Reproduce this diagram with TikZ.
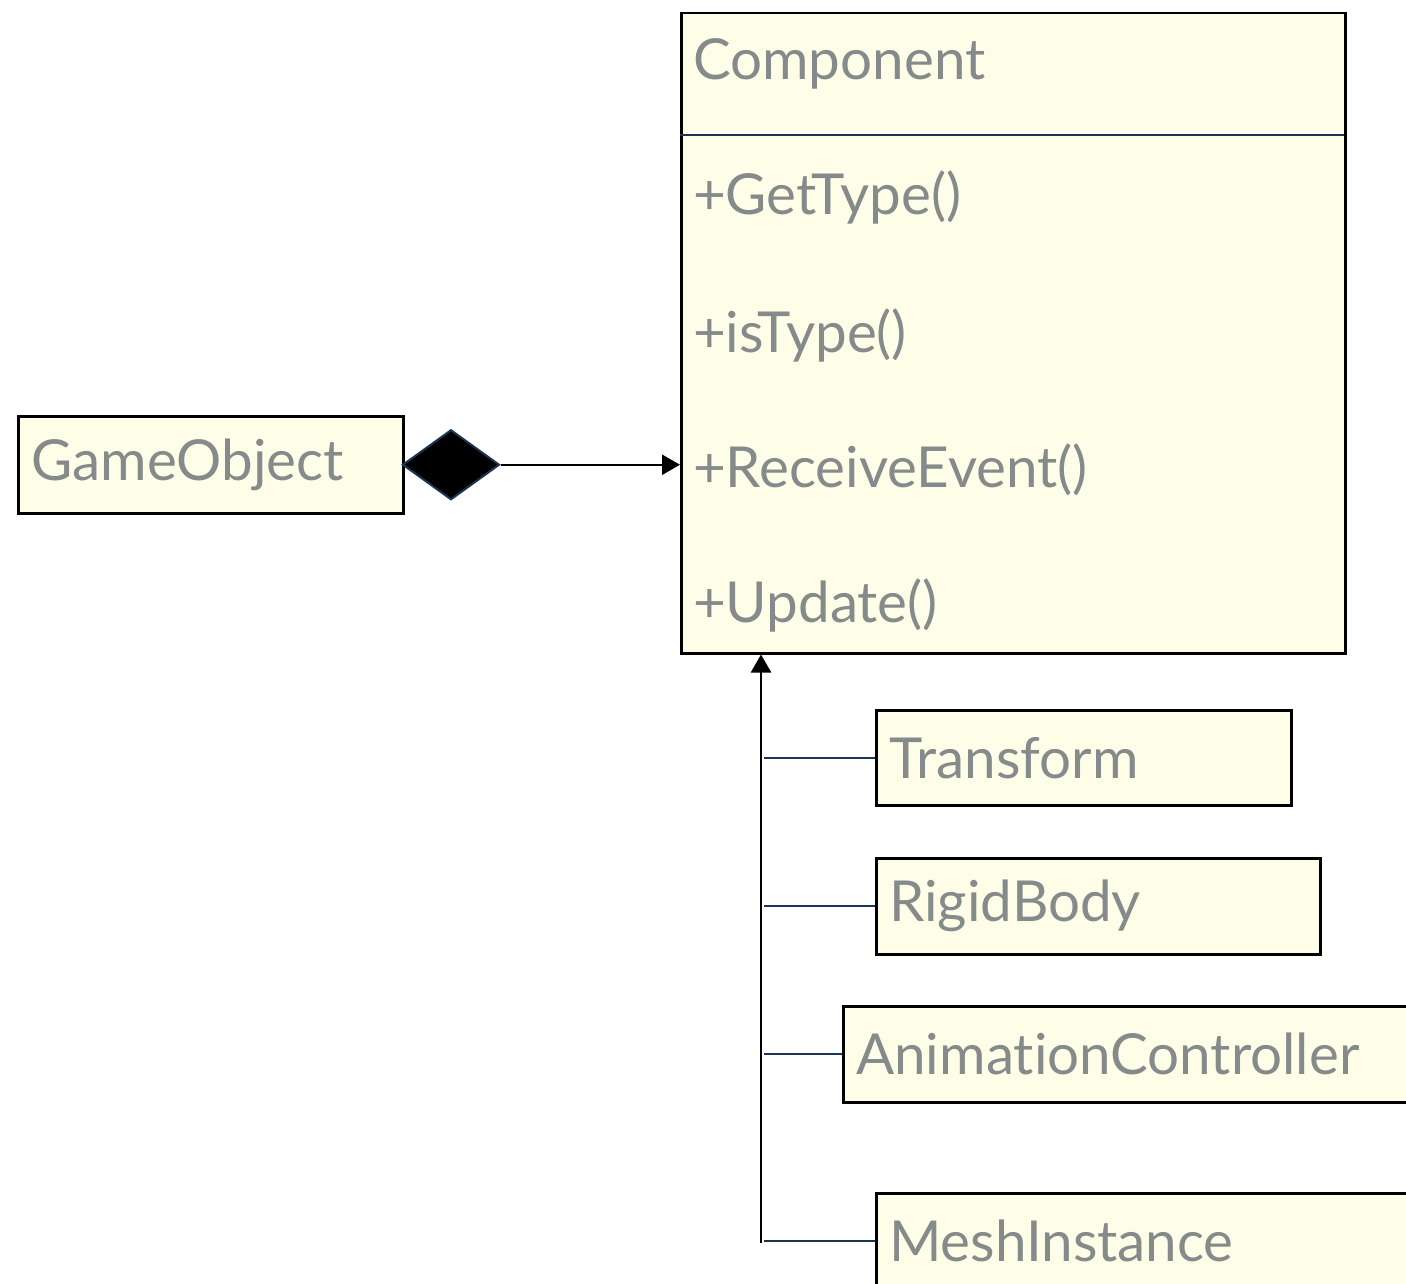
\documentclass[tikz,border=0pt]{standalone}
\usepackage{fontspec}
\setmainfont[Ligatures=NoCommon]{Lato}
\usetikzlibrary{shapes.geometric,arrows.meta}
\definecolor{boxfill}{HTML}{FEFEE8}
\definecolor{labelgray}{HTML}{858A8A}
\definecolor{navy}{HTML}{1B3553}
\begin{document}
\begin{tikzpicture}[x=1pt,y=-1pt,
  cls/.style={draw=black, line width=2.5pt, fill=boxfill, rectangle,
    anchor=north west, inner xsep=13pt, inner ysep=0pt, align=left,
    font=\fontsize{56.5}{62}\selectfont, text=labelgray},
  member/.style={anchor=base west, inner sep=0pt,
    font=\fontsize{56.5}{62}\selectfont, text=labelgray},
  branch/.style={draw=navy, line width=2pt},
  tip/.style={-{Triangle[width=20pt,length=18pt]}, line width=2.5pt}]
\useasboundingbox (0,0) rectangle (1406,1284);
\clip (0,0) rectangle (1406,1284);

% Component class: name compartment and operations compartment
\node[cls, minimum width=664pt, minimum height=640pt] (comp) at (680,12) {};
\draw[navy, line width=2.5pt] (680,135) -- (1344,135);
\node[member] (cname) at (693,80) {Component};
\node[member] (op1) at (693,215) {+GetType()};
\node[member] (op2) at (693,352) {+isType()};
\node[member] (op3) at (693,487) {+ReceiveEvent()};
\node[member] (op4) at (693,622) {+Update()};

% Owner with composition
\node[cls, minimum width=385pt, minimum height=97pt, text width=359pt] (go) at (17,415) {GameObject};
\node[diamond, draw=navy, line width=2pt, fill=black, minimum width=97pt,
  minimum height=70pt, inner sep=0pt, anchor=west] (dia) at ([xshift=-3pt]go.east) {};
\draw[tip] (dia.east) -- (dia.east -| comp.west);

% Subclasses
\node[cls, minimum width=415pt, minimum height=95pt, text width=389pt] (tr) at (875,709) {Transform};
\node[cls, minimum width=444pt, minimum height=96pt, text width=418pt] (rb) at (875,857) {RigidBody};
\node[cls, minimum width=620pt, minimum height=96pt, text width=594pt] (ac) at (842,1005) {AnimationController};
\node[cls, minimum width=620pt, minimum height=96pt, text width=594pt] (mi) at (875,1192) {MeshInstance};

% Generalization trunk and branches
\coordinate (trunk) at (761,1243);
\draw[tip] (trunk) -- (trunk |- comp.south);
\draw[branch] ([xshift=3pt]trunk |- tr.west) -- (tr.west);
\draw[branch] ([xshift=3pt]trunk |- rb.west) -- (rb.west);
\draw[branch] ([xshift=3pt]trunk |- ac.west) -- (ac.west);
\draw[branch] ([xshift=3pt]trunk |- mi.west) -- (mi.west);
\end{tikzpicture}
\end{document}
